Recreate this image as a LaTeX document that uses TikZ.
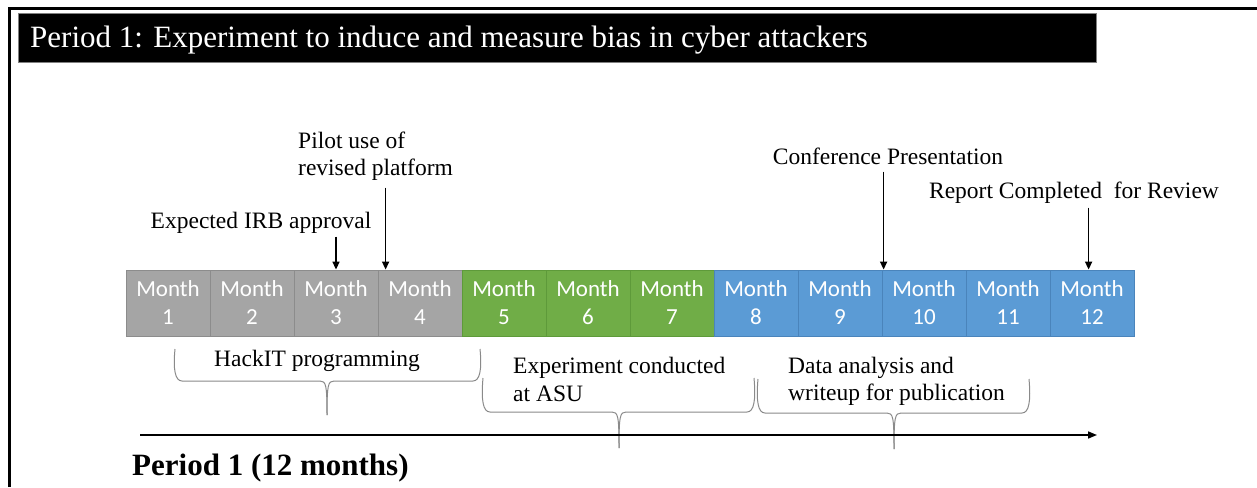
\documentclass[tikz,border=0pt]{standalone}
\usepackage{fontspec}
\setmainfont{Liberation Serif}
\newfontfamily\calib{Carlito}
\usetikzlibrary{arrows.meta}
\definecolor{mgray}{HTML}{A5A5A5}
\definecolor{mgrayd}{HTML}{8C8C8C}
\definecolor{mgreen}{HTML}{70AD47}
\definecolor{mgreend}{HTML}{5E9A3A}
\definecolor{mblue}{HTML}{5B9BD5}
\definecolor{mblued}{HTML}{4A84BB}
\definecolor{bracegray}{HTML}{8A8A8A}
\tikzset{
  month/.style={minimum width=84pt, minimum height=66pt, inner sep=0pt, line width=0.8pt,
    align=center, text=white, font=\calib\fontsize{23}{28}\selectfont},
  graymonth/.style={month, fill=mgray, draw=mgrayd},
  greenmonth/.style={month, fill=mgreen, draw=mgreend},
  bluemonth/.style={month, fill=mblue, draw=mblued},
  lbl/.style={inner sep=0pt, yshift=-2pt, font=\fontsize{23.5}{27.5}\selectfont},
  pin/.style={line width=1.5pt, -{Triangle[length=8pt,width=7pt]}},
  bracestyle/.style={draw=bracegray, line width=1pt},
}
% curly brace: left x, right x, tip x, top y, bar y, tip y
\newcommand\curlybrace[6]{%
  \draw[bracestyle] (#1,#4) .. controls (#1-2,#5-12) and (#1,#5) .. (#1+7,#5)
    -- (#3-7,#5) .. controls (#3-1,#5) and (#3,#5+4) .. (#3,#6);
  \draw[bracestyle] (#2,#4) .. controls (#2+2,#5-12) and (#2,#5) .. (#2-7,#5)
    -- (#3+7,#5) .. controls (#3+1,#5) and (#3,#5+4) .. (#3,#6);
}
\begin{document}
\begin{tikzpicture}[x=1pt,y=-1pt]
\useasboundingbox (0,0) rectangle (1257,487);
\fill[white] (0,0) rectangle (1257,487);
% outer frame
\draw[line width=3pt] (9,487) -- (9,9) -- (1257,9);
% title bar
\node[draw=gray, line width=0.8pt, fill=black, minimum width=1078pt, minimum height=49pt,
  inner sep=0pt, anchor=north west] (title) at (18,13) {};
\node[text=white, anchor=west, inner sep=0pt, font=\fontsize{31}{33}\selectfont]
  (titletext) at (30,40) {Period 1: Experiment to induce and measure bias in cyber attackers};
% months
\node[graymonth] (m1) at (168,303) {Month\\1};
\node[graymonth] (m2) at (252,303) {Month\\2};
\node[graymonth] (m3) at (336,303) {Month\\3};
\node[graymonth] (m4) at (420,303) {Month\\4};
\node[greenmonth] (m5) at (504,303) {Month\\5};
\node[greenmonth] (m6) at (588,303) {Month\\6};
\node[greenmonth] (m7) at (672,303) {Month\\7};
\node[bluemonth] (m8) at (756,303) {Month\\8};
\node[bluemonth] (m9) at (840,303) {Month\\9};
\node[bluemonth] (m10) at (924,303) {Month\\10};
\node[bluemonth] (m11) at (1008,303) {Month\\11};
\node[bluemonth] (m12) at (1092,303) {Month\\12};
% milestones
\node[lbl] (irb) at (261,221) {Expected IRB approval};
\draw[pin] ([yshift=33pt]m3.north) -- (m3.north);
\node[lbl, align=left, anchor=west] (pilot) at (298,154) {Pilot use of\\revised platform};
\draw[pin] ([xshift=8pt,yshift=82pt]m4.north west) -- ([xshift=8pt]m4.north west);
\node[lbl] (conf) at (888,154) {Conference Presentation};
\draw[pin] ([xshift=2pt,yshift=98pt]m10.north west) -- ([xshift=2pt]m10.north west);
\node[lbl] (report) at (1074,191) {Report Completed\ \ for Review};
\draw[pin] ([xshift=39pt,yshift=62pt]m12.north west) -- ([xshift=39pt]m12.north west);
% phases
\node[lbl] (hack) at (317,359) {HackIT programming};
\curlybrace{175}{480}{327}{349}{381}{415}
\node[lbl, align=left, anchor=west] (exp) at (513,377.5) {Experiment conducted\\at ASU};
\curlybrace{483}{754}{619}{378}{412}{448}
\node[lbl, align=left, anchor=west] (data) at (788,379.5) {Data analysis and\\writeup for publication};
\curlybrace{758}{1029}{894}{379}{413}{449}
% timeline
\coordinate (tl0) at (140,435);
\coordinate (tl1) at (1097,435);
\draw[line width=1.6pt, -{Triangle[length=9pt,width=7pt]}] (tl0) -- (tl1);
\node[anchor=west, inner sep=0pt, font=\bfseries\fontsize{31}{33}\selectfont] (period) at (132,468) {Period 1 (12 months)};
\end{tikzpicture}
\end{document}
